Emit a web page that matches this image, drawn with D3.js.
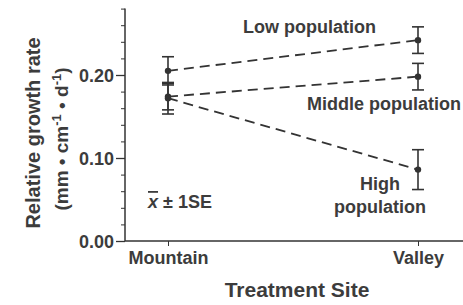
<!DOCTYPE html>
<meta charset="utf-8">
<style>
body { margin: 0; background: #fff; }
text {
  font-family: "Liberation Sans", Arial, sans-serif;
  font-weight: bold;
  fill: #3c3c3c;
}
</style>
<svg width="463" height="305"></svg>
<script src="https://d3js.org/d3.v7.min.js"></script>
<script>

var sites = ["Mountain", "Valley"];
var lowMean = [0.205, 0.242], lowSE = [0.017, 0.016];
var midMean = [0.174, 0.198], midSE = [0.016, 0.016];
var highMean = [0.172, 0.086], highSE = [0.019, 0.024];
var yTicks = [0, 0.10, 0.20];

var svg = d3.select("svg");
var ink = "#333";

var x = d3.scalePoint().domain(sites).range([168, 418]);
var y = d3.scaleLinear().domain([0, 0.28]).range([241, 8.6]);

var series = [
  {mean: lowMean, se: lowSE},
  {mean: midMean, se: midSE},
  {mean: highMean, se: highSE}
];

/* axes */
var yAxis = svg.append("g")
    .attr("transform", "translate(125,0)")
    .call(d3.axisLeft(y).tickValues(d3.range(0, 0.281, 0.02)).tickSize(4).tickFormat(""));
yAxis.selectAll("line").attr("stroke", ink);
yAxis.select(".domain").attr("stroke", ink).attr("stroke-width", 1.5).attr("d", "M0," + y(0) + "V" + y(0.28));

var yMajor = svg.append("g")
    .attr("transform", "translate(125,0)")
    .call(d3.axisLeft(y).tickValues(yTicks).tickSize(9).tickPadding(2).tickFormat(d3.format(".2f")));
yMajor.select(".domain").remove();
yMajor.selectAll("line").attr("stroke", ink).attr("stroke-width", 1.3);
yMajor.selectAll("text").style("font-size", "18px").style("fill", "#3c3c3c").attr("dy", "0.36em");

svg.append("line")
    .attr("x1", 125).attr("x2", 463)
    .attr("y1", y(0)).attr("y2", y(0))
    .attr("stroke", ink).attr("stroke-width", 1.5);

var xAxis = svg.append("g")
    .attr("transform", "translate(0," + y(0) + ")")
    .call(d3.axisBottom(x).tickSize(5).tickPadding(5));
xAxis.select(".domain").remove();
xAxis.selectAll("line").attr("stroke", ink);
xAxis.selectAll("text").style("font-size", "18px").style("fill", "#3c3c3c");

/* titles */
svg.append("text")
    .attr("x", 297).attr("y", 297)
    .attr("text-anchor", "middle")
    .style("font-size", "21px")
    .text("Treatment Site");

var yt = svg.append("g").attr("transform", "translate(0,133) rotate(-90)");
yt.append("text")
    .attr("x", 0).attr("y", 40)
    .attr("text-anchor", "middle")
    .style("font-size", "20px")
    .text("Relative growth rate");
var sub = yt.append("text")
    .attr("x", -6).attr("y", 68)
    .attr("text-anchor", "middle")
    .style("font-size", "19px");
sub.append("tspan").text("(mm \u2022 cm");
sub.append("tspan").attr("dy", -7).style("font-size", "13px").text("-1");
sub.append("tspan").attr("dy", 7).text(" \u2022 d");
sub.append("tspan").attr("dy", -7).style("font-size", "13px").text("-1");
sub.append("tspan").attr("dy", 7).text(")");

/* dashed lines */
svg.append("g").selectAll("line")
  .data(series)
  .join("line")
    .attr("x1", x(sites[0])).attr("x2", x(sites[1]))
    .attr("y1", function(d) { return y(d.mean[0]); })
    .attr("y2", function(d) { return y(d.mean[1]); })
    .attr("stroke", ink)
    .attr("stroke-width", 1.8)
    .attr("stroke-dasharray", "10,6");

/* error bars + points */
var pts = [];
series.forEach(function(s) {
  sites.forEach(function(site, i) {
    pts.push({site: site, m: s.mean[i], se: s.se[i]});
  });
});

var eb = svg.append("g").selectAll("g")
  .data(pts)
  .join("g")
    .attr("stroke", ink)
    .attr("stroke-width", 1.6);
eb.append("line")
    .attr("x1", function(d) { return x(d.site); })
    .attr("x2", function(d) { return x(d.site); })
    .attr("y1", function(d) { return y(d.m - d.se); })
    .attr("y2", function(d) { return y(d.m + d.se); });
eb.append("line")
    .attr("x1", function(d) { return x(d.site) - 6; })
    .attr("x2", function(d) { return x(d.site) + 6; })
    .attr("y1", function(d) { return y(d.m + d.se); })
    .attr("y2", function(d) { return y(d.m + d.se); });
eb.append("line")
    .attr("x1", function(d) { return x(d.site) - 6; })
    .attr("x2", function(d) { return x(d.site) + 6; })
    .attr("y1", function(d) { return y(d.m - d.se); })
    .attr("y2", function(d) { return y(d.m - d.se); });

svg.append("g").selectAll("circle")
  .data(pts)
  .join("circle")
    .attr("cx", function(d) { return x(d.site); })
    .attr("cy", function(d) { return y(d.m); })
    .attr("r", 3.2)
    .attr("fill", ink);

/* labels */
function label(t, xx, yy, anchor) {
  svg.append("text").attr("x", xx).attr("y", yy)
    .attr("text-anchor", anchor || "start")
    .style("font-size", "18px").text(t);
}
label("Low population", 243, 33);
label("Middle population", 307, 110);
label("High", 380, 190, "middle");
label("population", 380, 213, "middle");

var se = svg.append("text").attr("x", 148).attr("y", 208).style("font-size", "18px");
se.append("tspan").style("font-style", "italic").style("text-decoration", "overline").text("x");
se.append("tspan").text(" \u00b1 1SE");

</script>
